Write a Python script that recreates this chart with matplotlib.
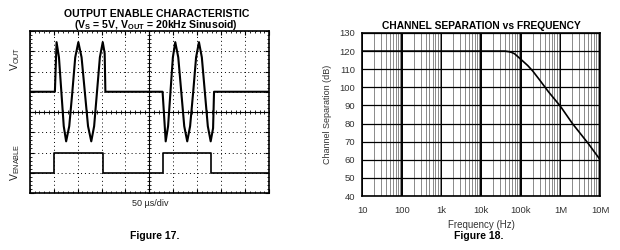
import numpy as np
import matplotlib as mpl
mpl.use('Agg')
import matplotlib.pyplot as plt

plt.rcParams['font.family'] = ['Liberation Sans', 'DejaVu Sans']
plt.rcParams['mathtext.fontset'] = 'custom'
plt.rcParams['mathtext.rm'] = 'Liberation Sans'
plt.rcParams['mathtext.it'] = 'Liberation Sans'
plt.rcParams['mathtext.bf'] = 'Liberation Sans:bold'

# ---- Figure 17 data (in scope divisions, 50us/div) ----
vout_t = [0, 1.05, 1.12, 1.22, 1.32, 1.42, 1.52, 1.65, 1.78, 1.90, 2.03,
          2.165, 2.30, 2.435, 2.57, 2.69, 2.81, 2.93, 3.05, 3.13, 3.16,
          5.55, 5.68, 5.78, 5.88, 5.98, 6.08, 6.205, 6.33, 6.455, 6.58,
          6.70, 6.83, 6.95, 7.07, 7.19, 7.315, 7.44, 7.56, 7.66, 7.70, 10]
vout_v = [1.0, 1.0, 3.45, 2.7, 1.0, -0.7, -1.45, -0.7, 1.0, 2.7, 3.45,
          2.7, 1.0, -0.7, -1.45, -0.7, 1.0, 2.7, 3.45, 2.9, 1.0,
          1.0, -1.45, -0.7, 1.0, 2.7, 3.45, 2.7, 1.0, -0.7, -1.45,
          -0.7, 1.0, 2.7, 3.45, 2.7, 1.0, -0.7, -1.45, -0.8, 1.0, 1.0]
en_t = [0, 1.03, 1.03, 3.05, 3.05, 5.58, 5.58, 7.57, 7.57, 10]
en_v = [-3, -3, -2, -2, -3, -3, -2, -2, -3, -3]

# ---- Figure 18 data ----
freq = [10, 1e3, 1e4, 4e4, 5e4, 6e4, 7e4, 1e5, 1.5e5, 2e5, 3e5, 5e5, 1e6, 2e6, 5e6, 1e7]
sep = [120, 120, 120, 120, 119.7, 119.2, 118.5, 115.5, 112, 109, 104, 97.5, 89.5, 80, 69, 60]
xtick_pos = [10, 100, 1e3, 1e4, 1e5, 1e6, 1e7]
xtick_lab = ['10', '100', '1k', '10k', '100k', '1M', '10M']

fig = plt.figure(figsize=(6.2, 2.5), dpi=100)

# ---------------- left panel ----------------
ax1 = fig.add_axes([0.048, 0.228, 0.386, 0.648])
ax1.set_xlim(0, 10)
ax1.set_ylim(-4, 4)
ax1.set_xticks(np.arange(0, 11, 1))
ax1.set_yticks(np.arange(-4, 5, 1))
ax1.set_xticks(np.arange(0, 10.01, 0.2), minor=True)
ax1.set_yticks(np.arange(-4, 4.01, 0.2), minor=True)
ax1.tick_params(which='both', direction='in', top=True, right=True,
                labelbottom=False, labelleft=False)
ax1.tick_params(which='major', length=3, width=0.8)
ax1.tick_params(which='minor', length=1.5, width=0.6)
ax1.grid(True, which='major', ls=(0, (1, 3)), color='k', lw=0.7)
ax1.axhline(0, color='k', lw=0.8)
ax1.axvline(5, color='k', lw=0.8)
mt = np.arange(0, 10.01, 0.2)
ax1.plot(mt, np.zeros_like(mt), '|', color='k', ms=3, mew=0.6)
mv = np.arange(-4, 4.01, 0.2)
ax1.plot(np.full_like(mv, 5), mv, '_', color='k', ms=3, mew=0.6)
for s in ax1.spines.values():
    s.set_linewidth(1.2)
ax1.plot(vout_t, vout_v, color='k', lw=1.5, solid_joinstyle='round')
ax1.plot(en_t, en_v, color='k', lw=1.2)
ax1.text(-0.06, 0.83, r'$\mathrm{V_{OUT}}$', transform=ax1.transAxes,
         rotation=90, ha='center', va='center', fontsize=7.5, color='#222222')
ax1.text(-0.06, 0.19, r'$\mathrm{V_{ENABLE}}$', transform=ax1.transAxes,
         rotation=90, ha='center', va='center', fontsize=7.5, color='#222222')
fig.text(0.252, 0.944, 'OUTPUT ENABLE CHARACTERISTIC', ha='center', va='center',
         fontsize=7.6, fontweight='bold')
fig.text(0.252, 0.902, r'($\mathbf{V_S}$ = 5V, $\mathbf{V_{OUT}}$ = 20kHz Sinusoid)',
         ha='center', va='center', fontsize=7.6, fontweight='bold')
fig.text(0.243, 0.184, '50 µs/div', ha='center', va='center', fontsize=6.5, color='#222222')
fig.text(0.25, 0.056, 'Figure 17.', ha='center', va='center', fontsize=7.5, fontweight='bold')

# ---------------- right panel ----------------
ax2 = fig.add_axes([0.584, 0.216, 0.384, 0.652])
ax2.set_xscale('log')
ax2.set_xlim(10, 1e7)
ax2.set_ylim(40, 130)
ax2.set_yticks(np.arange(40, 131, 10))
ax2.set_xticks(xtick_pos)
ax2.set_xticklabels(xtick_lab)
ax2.xaxis.set_minor_locator(mpl.ticker.LogLocator(base=10, subs=np.arange(2, 10)))
ax2.xaxis.set_minor_formatter(mpl.ticker.NullFormatter())
ax2.tick_params(which='both', length=0, labelsize=6.8, colors='#333333')
ax2.tick_params(axis='x', pad=7)
ax2.tick_params(axis='y', pad=5)
ax2.grid(True, which='minor', axis='x', color='#8a8a8a', lw=0.7)
ax2.grid(True, which='major', axis='x', color='k', lw=1.4)
ax2.grid(True, which='major', axis='y', color='k', lw=0.9)
for s in ax2.spines.values():
    s.set_linewidth(1.2)
ax2.plot(freq, sep, color='k', lw=1.2)
ax2.set_ylabel('Channel Separation (dB)', fontsize=6.5, color='#333333', labelpad=5)
ax2.set_xlabel('Frequency (Hz)', fontsize=7, color='#333333', labelpad=4)
ax2.set_title('CHANNEL SEPARATION vs FREQUENCY', fontsize=7.4, fontweight='bold', pad=3)
fig.text(0.772, 0.056, 'Figure 18.', ha='center', va='center', fontsize=7.5, fontweight='bold')

plt.savefig('out.png', dpi=100)
